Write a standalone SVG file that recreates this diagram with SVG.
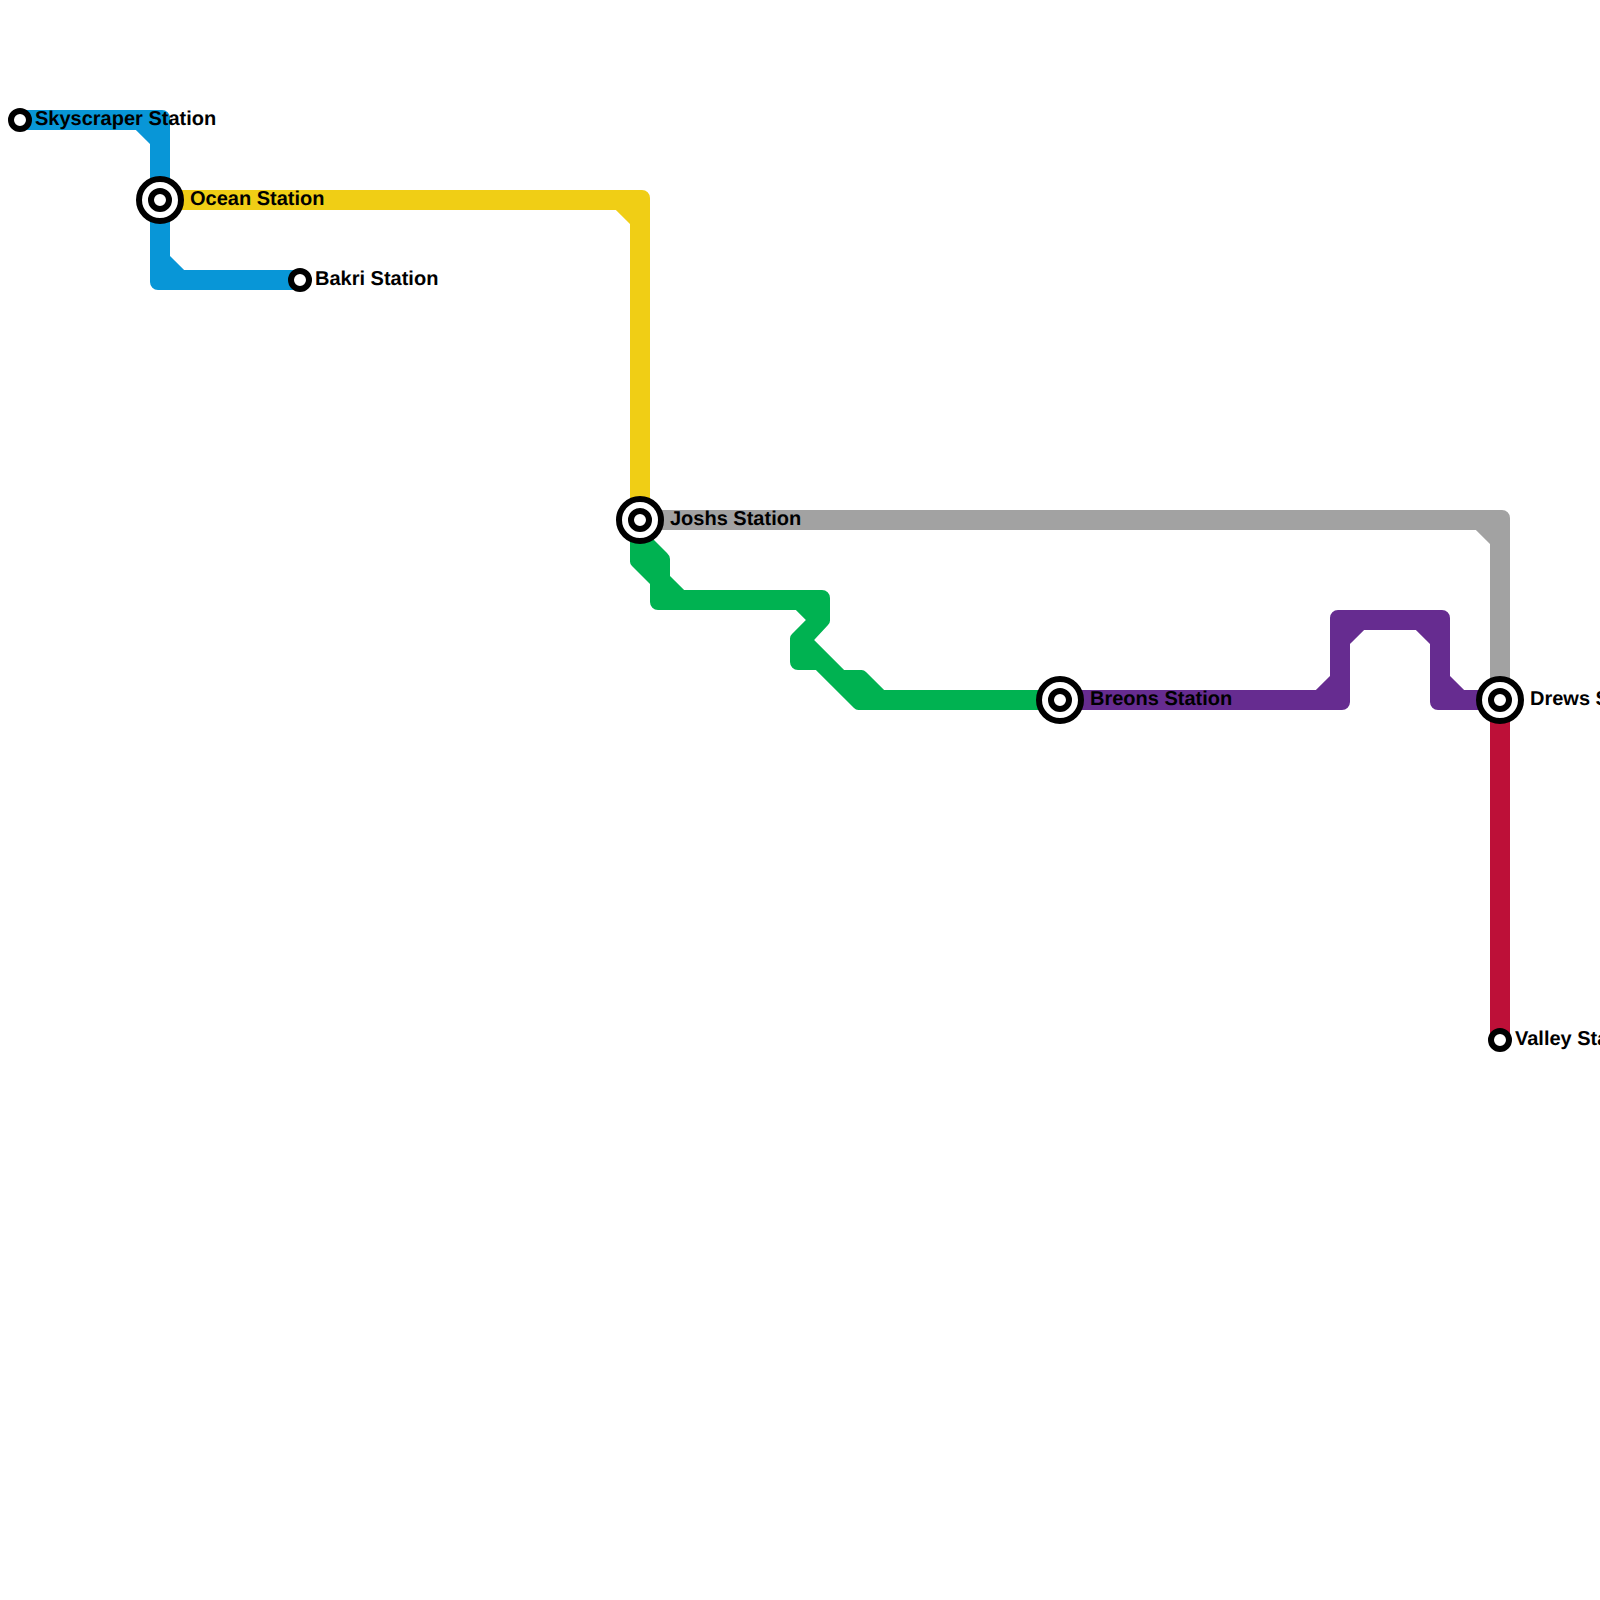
<svg xmlns="http://www.w3.org/2000/svg" width="1600" height="1600" viewBox="0 0 1600 1600">
<style>
.line{stroke:none}
.ring{fill:#fff;stroke:#000;stroke-width:6}
.dot{fill:#fff;stroke:#000;stroke-width:6}
.label{font-family:"Liberation Sans",Arial,sans-serif;font-weight:700;font-size:20px;fill:#000;text-rendering:geometricPrecision}
</style>
<rect width="1600" height="1600" fill="#fff"/>
<g id="connectors">
<path class="line" fill="#0896d7" d="M20 110H162A8 8 0 0 1 170 118V255.900L184.100 270H300V290H158A8 8 0 0 1 150 282V144.100L135.900 130H20Z"/>
<path class="line" fill="#f0ce15" d="M160 190H642A8 8 0 0 1 650 198V520H630V224.100L615.900 210H160Z"/>
<path class="line" fill="#a2a2a2" d="M640 510H1502A8 8 0 0 1 1510 518V700H1490V544.100L1475.900 530H640Z"/>
<path class="line" fill="#00b251" d="M630 520H634L667 553A9 9 0 0 1 670 559V575.900L684.100 590H822A8 8 0 0 1 830 598V620A6 6 0 0 1 828 625L814.100 640L844.100 670H861A6 6 0 0 1 866 672L884.100 690H1060V710H859A6 6 0 0 1 854 708L815.900 670H798A8 8 0 0 1 790 662V639A6 6 0 0 1 792 634L805.900 620L795.900 610H658A8 8 0 0 1 650 602V584.100L632 566A6 6 0 0 1 630 561Z"/>
<path class="line" fill="#662c90" d="M1060 690H1315.900L1330 675.900V618A8 8 0 0 1 1338 610H1442A8 8 0 0 1 1450 618V675.900L1464.100 690H1500V710H1438A8 8 0 0 1 1430 702V644.100L1415.900 630H1364.100L1350 644.100V702A8 8 0 0 1 1342 710H1060Z"/>
<path class="line" fill="#bd1038" d="M1490 700H1510V1040H1490Z"/>
</g>
<g id="skyscraper-station"><circle class="dot" cx="20" cy="120" r="9"/><text class="label" x="35" y="124.500">Skyscraper Station</text></g>
<g id="ocean-station"><circle class="ring" cx="160" cy="200" r="21"/><circle class="dot" cx="160" cy="200" r="9"/><text class="label" x="190" y="205">Ocean Station</text></g>
<g id="bakri-station"><circle class="dot" cx="300" cy="280" r="9"/><text class="label" x="315" y="285">Bakri Station</text></g>
<g id="joshs-station"><circle class="ring" cx="640" cy="520" r="21"/><circle class="dot" cx="640" cy="520" r="9"/><text class="label" x="670" y="525">Joshs Station</text></g>
<g id="breons-station"><circle class="ring" cx="1060" cy="700" r="21"/><circle class="dot" cx="1060" cy="700" r="9"/><text class="label" x="1090" y="705">Breons Station</text></g>
<g id="drews-station"><circle class="ring" cx="1500" cy="700" r="21"/><circle class="dot" cx="1500" cy="700" r="9"/><text class="label" x="1530" y="705">Drews Station</text></g>
<g id="valley-station"><circle class="dot" cx="1500" cy="1040" r="9"/><text class="label" x="1515" y="1045">Valley Station</text></g>
</svg>
